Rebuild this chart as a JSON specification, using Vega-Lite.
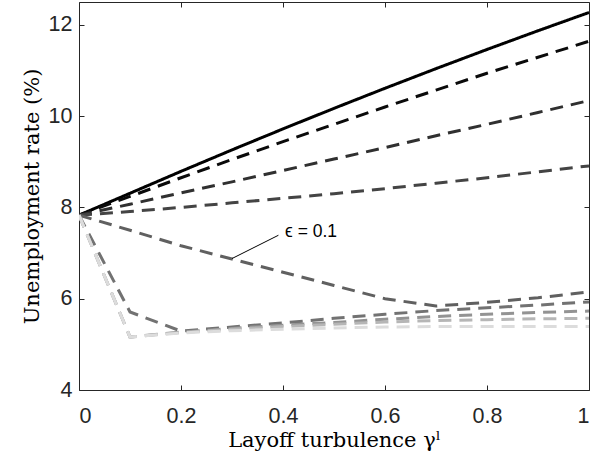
{
  "$schema": "https://vega.github.io/schema/vega-lite/v6.json",
  "width": 510,
  "height": 388,
  "autosize": {"type": "none"},
  "padding": {"left": 79, "top": 2, "right": 17, "bottom": 71},
  "background": "white",
  "config": {
    "view": {"stroke": null},
    "axis": {
      "grid": false,
      "domainColor": "#262626",
      "domainWidth": 1,
      "tickColor": "#262626",
      "tickWidth": 1,
      "tickSize": -5,
      "labelColor": "#262626",
      "labelFont": "Liberation Sans",
      "labelFontSize": 21.5,
      "titleColor": "#000000",
      "titleFont": "DejaVu Serif",
      "titleFontWeight": "normal",
      "titleFontSize": 21
    }
  },
  "data": {
    "values": [
      {"g": 0, "s": "c1", "u": 7.83}, {"g": 0.1, "s": "c1", "u": 8.31}, {"g": 0.2, "s": "c1", "u": 8.79}, {"g": 0.3, "s": "c1", "u": 9.26}, {"g": 0.4, "s": "c1", "u": 9.72}, {"g": 0.5, "s": "c1", "u": 10.17}, {"g": 0.6, "s": "c1", "u": 10.61}, {"g": 0.7, "s": "c1", "u": 11.04}, {"g": 0.8, "s": "c1", "u": 11.46}, {"g": 0.9, "s": "c1", "u": 11.87}, {"g": 1, "s": "c1", "u": 12.27},
      {"g": 0, "s": "c2", "u": 7.83}, {"g": 0.1, "s": "c2", "u": 8.24}, {"g": 0.2, "s": "c2", "u": 8.65}, {"g": 0.3, "s": "c2", "u": 9.05}, {"g": 0.4, "s": "c2", "u": 9.44}, {"g": 0.5, "s": "c2", "u": 9.82}, {"g": 0.6, "s": "c2", "u": 10.2}, {"g": 0.7, "s": "c2", "u": 10.57}, {"g": 0.8, "s": "c2", "u": 10.94}, {"g": 0.9, "s": "c2", "u": 11.29}, {"g": 1, "s": "c2", "u": 11.64},
      {"g": 0, "s": "c3", "u": 7.83}, {"g": 0.1, "s": "c3", "u": 8.07}, {"g": 0.2, "s": "c3", "u": 8.32}, {"g": 0.3, "s": "c3", "u": 8.56}, {"g": 0.4, "s": "c3", "u": 8.81}, {"g": 0.5, "s": "c3", "u": 9.06}, {"g": 0.6, "s": "c3", "u": 9.31}, {"g": 0.7, "s": "c3", "u": 9.57}, {"g": 0.8, "s": "c3", "u": 9.82}, {"g": 0.9, "s": "c3", "u": 10.08}, {"g": 1, "s": "c3", "u": 10.34},
      {"g": 0, "s": "c4", "u": 7.83}, {"g": 0.1, "s": "c4", "u": 7.91}, {"g": 0.2, "s": "c4", "u": 8.0}, {"g": 0.3, "s": "c4", "u": 8.1}, {"g": 0.4, "s": "c4", "u": 8.2}, {"g": 0.5, "s": "c4", "u": 8.3}, {"g": 0.6, "s": "c4", "u": 8.41}, {"g": 0.7, "s": "c4", "u": 8.53}, {"g": 0.8, "s": "c4", "u": 8.65}, {"g": 0.9, "s": "c4", "u": 8.78}, {"g": 1, "s": "c4", "u": 8.91},
      {"g": 0, "s": "c5", "u": 7.83}, {"g": 0.1, "s": "c5", "u": 7.5}, {"g": 0.2, "s": "c5", "u": 7.16}, {"g": 0.3, "s": "c5", "u": 6.87}, {"g": 0.4, "s": "c5", "u": 6.58}, {"g": 0.5, "s": "c5", "u": 6.29}, {"g": 0.6, "s": "c5", "u": 6.0}, {"g": 0.7, "s": "c5", "u": 5.84}, {"g": 0.8, "s": "c5", "u": 5.92}, {"g": 0.9, "s": "c5", "u": 6.02}, {"g": 1, "s": "c5", "u": 6.15},
      {"g": 0, "s": "c6", "u": 7.83}, {"g": 0.1, "s": "c6", "u": 5.71}, {"g": 0.2, "s": "c6", "u": 5.29}, {"g": 0.3, "s": "c6", "u": 5.38}, {"g": 0.4, "s": "c6", "u": 5.47}, {"g": 0.5, "s": "c6", "u": 5.57}, {"g": 0.6, "s": "c6", "u": 5.66}, {"g": 0.7, "s": "c6", "u": 5.74}, {"g": 0.8, "s": "c6", "u": 5.8}, {"g": 0.9, "s": "c6", "u": 5.86}, {"g": 1, "s": "c6", "u": 5.93},
      {"g": 0, "s": "c7", "u": 7.83}, {"g": 0.1, "s": "c7", "u": 5.16}, {"g": 0.2, "s": "c7", "u": 5.27}, {"g": 0.3, "s": "c7", "u": 5.35}, {"g": 0.4, "s": "c7", "u": 5.42}, {"g": 0.5, "s": "c7", "u": 5.48}, {"g": 0.6, "s": "c7", "u": 5.55}, {"g": 0.7, "s": "c7", "u": 5.61}, {"g": 0.8, "s": "c7", "u": 5.66}, {"g": 0.9, "s": "c7", "u": 5.7}, {"g": 1, "s": "c7", "u": 5.73},
      {"g": 0, "s": "c8", "u": 7.83}, {"g": 0.1, "s": "c8", "u": 5.16}, {"g": 0.2, "s": "c8", "u": 5.26}, {"g": 0.3, "s": "c8", "u": 5.33}, {"g": 0.4, "s": "c8", "u": 5.39}, {"g": 0.5, "s": "c8", "u": 5.44}, {"g": 0.6, "s": "c8", "u": 5.49}, {"g": 0.7, "s": "c8", "u": 5.52}, {"g": 0.8, "s": "c8", "u": 5.54}, {"g": 0.9, "s": "c8", "u": 5.56}, {"g": 1, "s": "c8", "u": 5.57},
      {"g": 0, "s": "c9", "u": 7.83}, {"g": 0.1, "s": "c9", "u": 5.16}, {"g": 0.2, "s": "c9", "u": 5.25}, {"g": 0.3, "s": "c9", "u": 5.3}, {"g": 0.4, "s": "c9", "u": 5.33}, {"g": 0.5, "s": "c9", "u": 5.36}, {"g": 0.6, "s": "c9", "u": 5.38}, {"g": 0.7, "s": "c9", "u": 5.39}, {"g": 0.8, "s": "c9", "u": 5.39}, {"g": 0.9, "s": "c9", "u": 5.39}, {"g": 1, "s": "c9", "u": 5.39}
    ]
  },
  "resolve": {"axis": {"x": "independent", "y": "independent"}},
  "layer": [
    {
      "mark": {"type": "line", "strokeWidth": 3, "clip": true},
      "encoding": {
        "x": {
          "field": "g", "type": "quantitative",
          "scale": {"domain": [0, 1], "nice": false, "zero": false},
          "axis": {"values": [0, 0.2, 0.4, 0.6, 0.8, 1], "format": "~g", "labelPadding": 20, "title": "Layoff turbulence γˡ", "titlePadding": 3}
        },
        "y": {
          "field": "u", "type": "quantitative",
          "scale": {"domain": [4, 12.5], "nice": false, "zero": false},
          "axis": {"values": [4, 6, 8, 10, 12], "labelPadding": 12, "title": "Unemployment rate (%)", "titlePadding": 6}
        },
        "color": {
          "field": "s", "type": "nominal", "legend": null,
          "scale": {
            "domain": ["c1", "c2", "c3", "c4", "c5", "c6", "c7", "c8", "c9"],
            "range": ["#000000", "#0a0a0a", "#303030", "#444444", "#606060", "#727272", "#939393", "#b6b6b6", "#dcdcdc"]
          }
        },
        "strokeDash": {
          "field": "s", "type": "nominal", "legend": null,
          "scale": {
            "domain": ["c1", "c2", "c3", "c4", "c5", "c6", "c7", "c8", "c9"],
            "range": [[1, 0], [13, 8], [13, 8], [13, 8], [13, 8], [13, 8], [13, 8], [13, 8], [13, 8]]
          }
        }
      }
    },
    {
      "mark": {"type": "point", "opacity": 0},
      "encoding": {
        "x": {"field": "g", "type": "quantitative", "axis": {"orient": "top", "values": [0, 0.2, 0.4, 0.6, 0.8, 1], "labels": false, "title": null}},
        "y": {"field": "u", "type": "quantitative", "axis": {"orient": "right", "values": [4, 6, 8, 10, 12], "labels": false, "title": null}}
      }
    },
    {
      "data": {"values": [{"g1": 0.3, "u1": 6.88, "g2": 0.391, "u2": 7.39}]},
      "mark": {"type": "rule", "color": "#000000", "strokeWidth": 1},
      "encoding": {
        "x": {"field": "g1", "type": "quantitative", "axis": null},
        "y": {"field": "u1", "type": "quantitative", "axis": null},
        "x2": {"field": "g2"},
        "y2": {"field": "u2"}
      }
    },
    {
      "data": {"values": [{"g": 0.404, "u": 7.46, "label": "ϵ = 0.1"}]},
      "mark": {"type": "text", "align": "left", "baseline": "middle", "font": "Liberation Sans", "fontSize": 17.5, "color": "#000000"},
      "encoding": {
        "x": {"field": "g", "type": "quantitative", "axis": null},
        "y": {"field": "u", "type": "quantitative", "axis": null},
        "text": {"field": "label"}
      }
    }
  ]
}
